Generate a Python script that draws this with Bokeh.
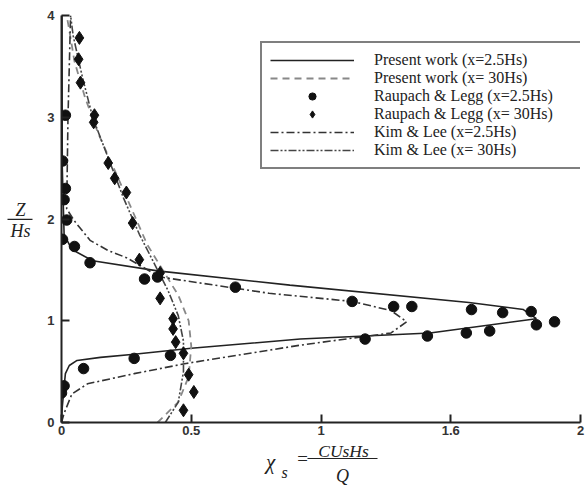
from bokeh.plotting import figure
from bokeh.layouts import row, column
from bokeh.models import Range1d, Legend, LegendItem, Label
from bokeh.embed import file_html
from bokeh.resources import INLINE

# Present work (x=2.5Hs)
pw25_x = [0.0, 0.003, 0.01, 0.015, 0.03, 0.06, 0.15, 0.28, 0.50, 0.92, 1.42, 1.83, 1.78, 1.57, 0.88, 0.37, 0.12, 0.04, 0.01, 0.003, 0.002]
pw25_z = [0.0, 0.15, 0.35, 0.48, 0.56, 0.61, 0.64, 0.67, 0.73, 0.82, 0.88, 1.02, 1.11, 1.18, 1.35, 1.49, 1.59, 1.70, 1.85, 2.5, 4.0]
# Present work (x=30Hs)
pw30_x = [0.37, 0.45, 0.49, 0.50, 0.49, 0.45, 0.39, 0.33, 0.27, 0.21, 0.14, 0.09, 0.05, 0.027, 0.02]
pw30_z = [0.0, 0.2, 0.45, 0.75, 1.0, 1.25, 1.5, 1.75, 2.1, 2.45, 2.85, 3.2, 3.55, 3.9, 4.0]
# Raupach & Legg (x=2.5Hs)
rl25_x = [0.015, 0.004, 0.015, 0.01, 0.02, 0.004, 0.05, 0.11, 0.32, 0.37, 0.67, 1.12, 1.28, 1.35, 1.58, 1.70, 1.81,
          1.90, 1.83, 1.65, 1.56, 1.41, 1.17, 0.42, 0.28, 0.085, 0.01, 0.0]
rl25_z = [3.02, 2.57, 2.30, 2.19, 1.99, 1.80, 1.73, 1.57, 1.41, 1.43, 1.33, 1.19, 1.14, 1.14, 1.11, 1.08, 1.09,
          0.99, 0.96, 0.90, 0.88, 0.85, 0.82, 0.66, 0.63, 0.53, 0.36, 0.29]
# Raupach & Legg (x=30Hs)
rl30_x = [0.069, 0.066, 0.073, 0.127, 0.124, 0.18, 0.205, 0.25, 0.274, 0.30, 0.38, 0.38, 0.43, 0.43, 0.44, 0.47, 0.49, 0.51, 0.47]
rl30_z = [3.78, 3.57, 3.34, 3.02, 2.95, 2.55, 2.40, 2.26, 1.96, 1.60, 1.47, 1.22, 1.02, 0.92, 0.79, 0.68, 0.47, 0.30, 0.12]
# Kim & Lee (x=2.5Hs)
kl25_x = [0.0, 0.01, 0.04, 0.10, 0.28, 0.48, 0.92, 1.27, 1.33, 1.27, 1.12, 0.80, 0.38, 0.25, 0.18, 0.11, 0.05, 0.02, 0.025, 0.035]
kl25_z = [0.0, 0.09, 0.28, 0.38, 0.48, 0.58, 0.76, 0.88, 0.99, 1.10, 1.19, 1.27, 1.43, 1.62, 1.69, 1.79, 1.98, 2.1, 3.0, 4.0]
# Kim & Lee (x=30Hs)
kl30_x = [0.40, 0.45, 0.47, 0.47, 0.45, 0.41, 0.36, 0.30, 0.24, 0.18, 0.12, 0.08, 0.045, 0.035]
kl30_z = [0.0, 0.2, 0.5, 0.8, 1.05, 1.3, 1.55, 1.85, 2.2, 2.6, 3.0, 3.4, 3.8, 4.0]

x_ticks = [0, 0.5, 1, 1.5, 2]
x_tick_labels = ["0", "0.5", "1", "1.6", "2"]
y_ticks = [0, 1, 2, 3, 4]
y_tick_labels = ["0", "1", "2", "3", "4"]

legend_labels = ["Present work (x=2.5Hs)", "Present work (x= 30Hs)", "Raupach & Legg (x=2.5Hs)",
                 "Raupach & Legg (x= 30Hs)", "Kim & Lee (x=2.5Hs)", "Kim & Lee (x= 30Hs)"]

SERIF = "Liberation Serif"
INK = "#222222"

# ---------- main plot ----------
LEFT_W = 40          # width of the y-label strip
ROW_H = 440          # height of the top row
p = figure(width=587 - LEFT_W, height=ROW_H, x_range=Range1d(0, 2), y_range=Range1d(0, 4),
           output_backend="svg", toolbar_location=None,
           min_border_left=21, min_border_right=7, min_border_top=15, min_border_bottom=18)
p.grid.visible = False
p.outline_line_color = None

r_pw25 = p.line(pw25_x, pw25_z, line_color=INK, line_width=1.6)
r_pw30 = p.line(pw30_x, pw30_z, line_color="#888888", line_width=1.8, line_dash="7 5")
r_kl25 = p.line(kl25_x, kl25_z, line_color="#333333", line_width=1.6, line_dash="8 3 2 3")
r_kl30 = p.line(kl30_x, kl30_z, line_color="#444444", line_width=1.6, line_dash="8 2 2 2 2 2")
r_rl25 = p.scatter(rl25_x, rl25_z, marker="circle", size=10.5, fill_color="#111111", line_color="#111111")
r_rl30 = p.scatter(rl30_x, rl30_z, marker="diamond", size=13, fill_color="#111111", line_color="#111111")

for ax, ticks, labels, standoff in ((p.xaxis[0], x_ticks, x_tick_labels, 3),
                                    (p.yaxis[0], y_ticks, y_tick_labels, 7)):
    ax.ticker = ticks
    ax.major_label_overrides = {t: l for t, l in zip(ticks, labels)}
    ax.axis_line_width = 2
    ax.axis_line_color = INK
    ax.major_tick_in = 8
    ax.major_tick_out = 0
    ax.major_tick_line_width = 2
    ax.major_tick_line_color = INK
    ax.minor_tick_line_color = None
    ax.major_label_text_font = "Liberation Sans"
    ax.major_label_text_font_style = "bold"
    ax.major_label_text_font_size = "13px"
    ax.major_label_text_color = "#333333"
    ax.major_label_standoff = standoff

legend = Legend(items=[
    LegendItem(label=legend_labels[0], renderers=[r_pw25]),
    LegendItem(label=legend_labels[1], renderers=[r_pw30]),
    LegendItem(label=legend_labels[2], renderers=[r_rl25]),
    LegendItem(label=legend_labels[3], renderers=[r_rl30]),
    LegendItem(label=legend_labels[4], renderers=[r_kl25]),
    LegendItem(label=legend_labels[5], renderers=[r_kl30]),
], location=(199, 253))
legend.border_line_color = "black"
legend.border_line_width = 2
legend.padding = 8
legend.spacing = 0
legend.margin = 0
legend.glyph_width = 84
legend.glyph_height = 18
legend.label_height = 18
legend.label_width = 199
legend.label_standoff = 20
legend.label_text_font = SERIF
legend.label_text_font_size = "16px"
legend.label_text_color = INK
legend.background_fill_alpha = 1
p.add_layout(legend, "center")

# ---------- label strips (their ranges are page pixels) ----------
def strip(w, h, x0, y0):
    f = figure(width=w, height=h, x_range=Range1d(x0, x0 + w), y_range=Range1d(y0 + h, y0),
               output_backend="svg", toolbar_location=None, x_axis_location=None, y_axis_location=None,
               min_border=0, min_border_left=0, min_border_right=0, min_border_top=0, min_border_bottom=0)
    f.outline_line_color = None
    f.grid.visible = False
    return f

def lab(f, px, py, text, size):
    f.add_layout(Label(x=px, y=py, text=text, text_font=SERIF, text_font_style="italic",
                       text_font_size=size, text_color=INK, text_align="center",
                       text_baseline="middle"))

ylab = strip(LEFT_W, ROW_H, 0, 0)
lab(ylab, 20, 210, "Z", "18px")
lab(ylab, 20, 233, "Hs", "18px")
ylab.line([7, 32], [220.5, 220.5], line_color=INK, line_width=1.2)

xlab = strip(587, 491 - ROW_H, 0, ROW_H)
lab(xlab, 270, 461, "χ", "21px")
lab(xlab, 284, 472, "s", "16px")
lab(xlab, 302, 458, "=", "19px")
lab(xlab, 343, 450, "CUsHs", "17.5px")
lab(xlab, 342, 475, "Q", "18px")
xlab.line([307, 377], [458, 458], line_color=INK, line_width=1.2)

layout = column(row(ylab, p), xlab)
open("out.html", "w").write(file_html(layout, INLINE))
